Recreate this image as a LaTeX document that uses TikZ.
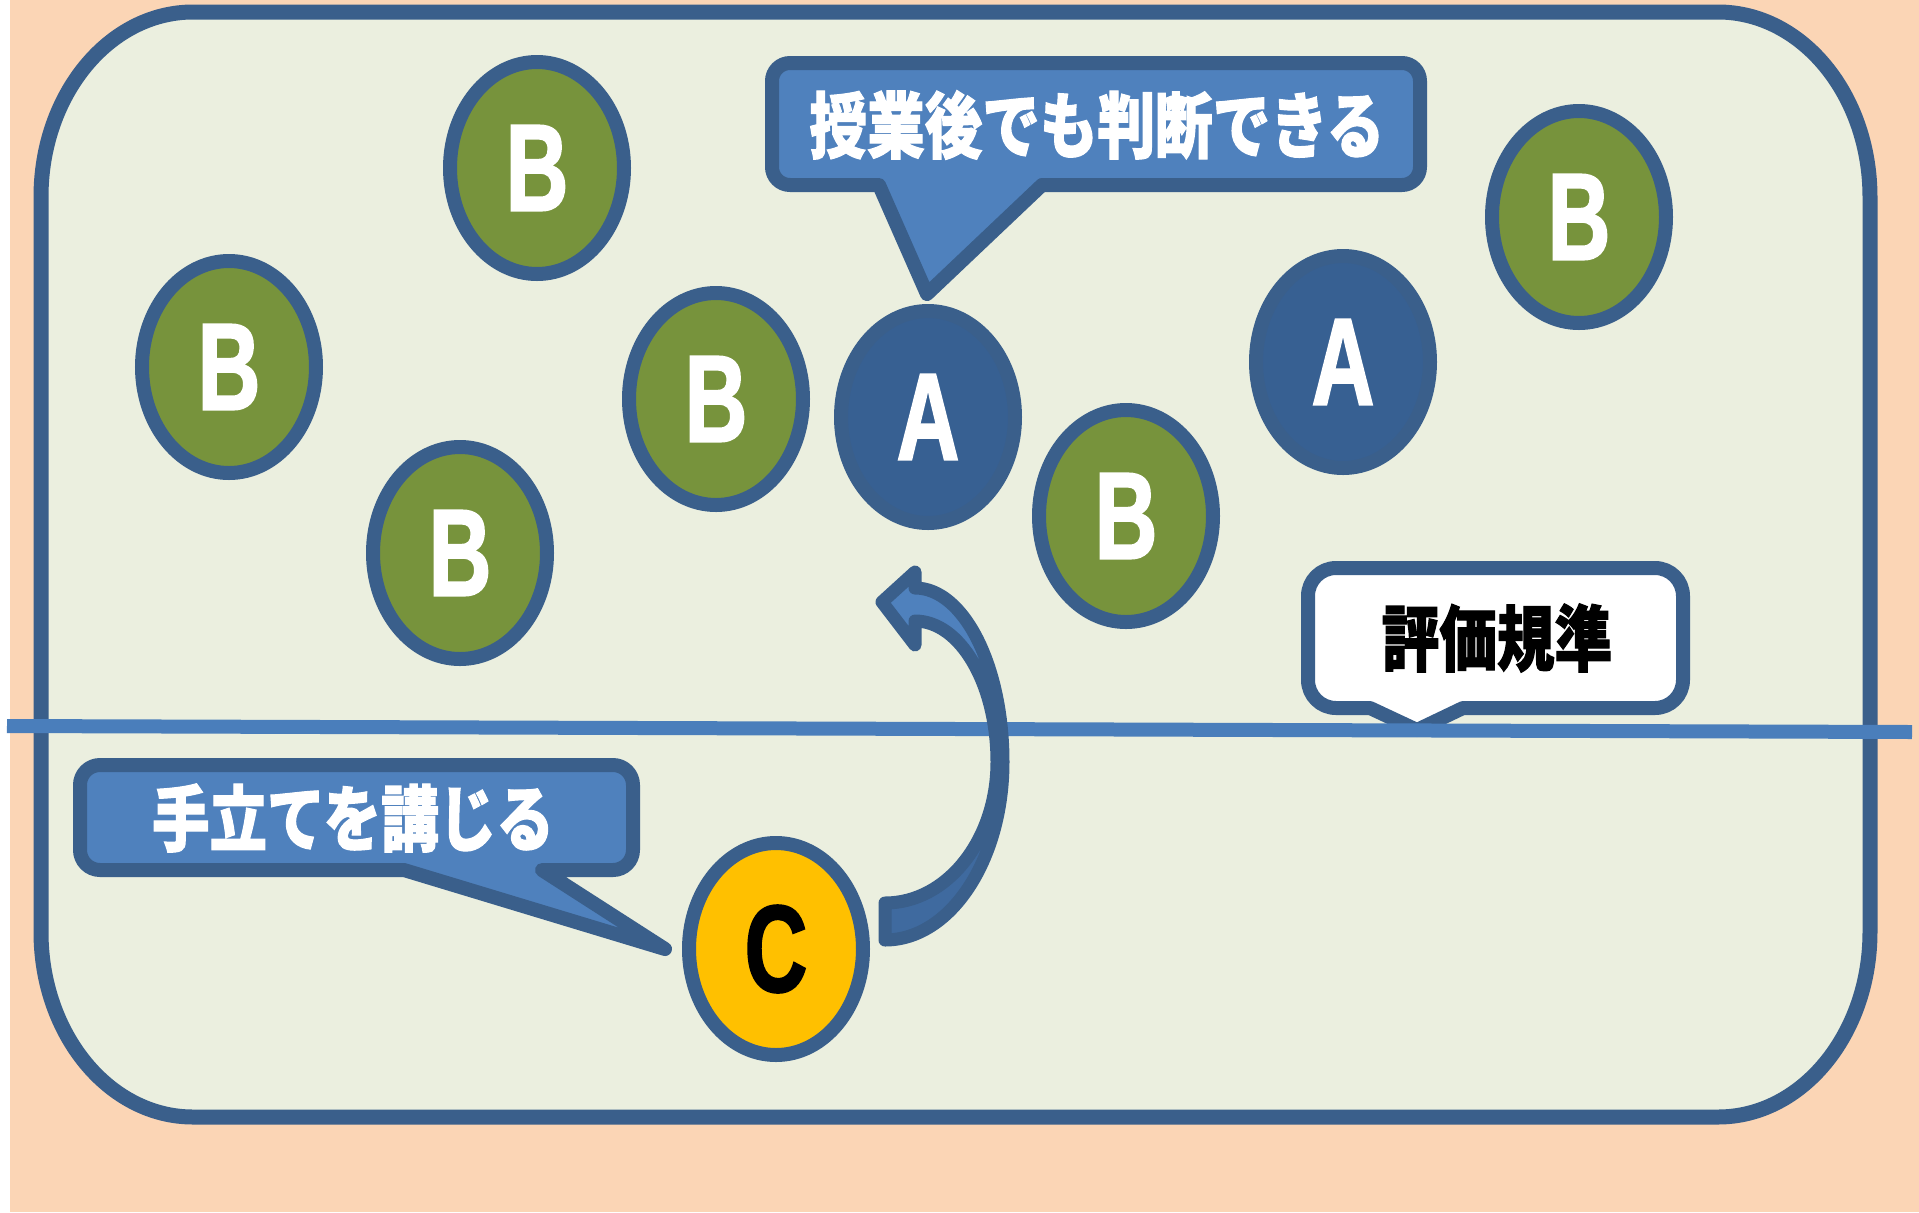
\documentclass[tikz,border=0pt]{standalone}
\usepackage{fontspec}
\usetikzlibrary{shapes.geometric}
\newfontfamily\cjkfont[FakeStretch=0.8, BoldFeatures={FakeBold=1.5}]{Noto Sans CJK JP}
\newfontfamily\latfont[FakeStretch=0.7, BoldFeatures={FakeBold=1.5}]{Liberation Sans}
\definecolor{peach}{HTML}{FBD5B5}
\definecolor{panel}{HTML}{EBEFDF}
\definecolor{bordc}{HTML}{3A5F8B}
\definecolor{greenB}{HTML}{77933C}
\definecolor{blueA}{HTML}{376092}
\definecolor{yellowC}{HTML}{FFC000}
\definecolor{calloutblue}{HTML}{4F81BD}
\definecolor{lineblue}{HTML}{4A7EBB}
\definecolor{arrowdark}{HTML}{3F6A9F}
\begin{document}
\begin{tikzpicture}[x=0.5pt,y=-0.5pt,
  oval/.style={ellipse, draw=bordc, line width=7pt, minimum width=87pt, minimum height=106pt, inner sep=0pt,
    font=\latfont\bfseries\fontsize{62}{62}\selectfont},
  ovalB/.style={oval, fill=greenB, text=white},
  ovalA/.style={oval, fill=blueA, text=white},
  ovalC/.style={oval, fill=yellowC, text=black},
  callout/.style={draw=bordc, line width=7pt, line join=round},
  lbl/.style={inner sep=0pt, font=\cjkfont\bfseries\fontsize{36}{36}\selectfont}]
\useasboundingbox (0,0) rectangle (1919,1212);
\fill[white] (0,0) rectangle (1919,1212);
\fill[peach] (10,0) rectangle (1919,1212);
% main panel
\draw[fill=panel, draw=bordc, line width=7.5pt]
  (193,12) -- (1718,12) arc[start angle=-90, end angle=0, x radius=152, y radius=185]
  -- (1870,932) arc[start angle=0, end angle=90, x radius=152, y radius=185]
  -- (193,1117) arc[start angle=90, end angle=180, x radius=152, y radius=185]
  -- (41,197) arc[start angle=180, end angle=270, x radius=152, y radius=185] -- cycle;
% ovals
\node[ovalB] (b1) at (537,168) {B};
\node[ovalB] (b2) at (229,367) {B};
\node[ovalB] (b3) at (460,553) {B};
\node[ovalB] (b4) at (716,399) {B};
\node[ovalA] (a1) at (928,417) {A};
\node[ovalB] (b5) at (1126,516) {B};
\node[ovalA] (a2) at (1343,362) {A};
\node[ovalB] (b6) at (1579,217) {B};
\node[ovalC] (c1) at (776,949) {C};
% callout 1
\draw[callout, fill=calloutblue]
  (879,185) -- (927,294) -- (1042,185) -- (1402,185) arc[start angle=90, end angle=0, radius=18]
  -- (1420,81) arc[start angle=0, end angle=-90, radius=18]
  -- (790,63) arc[start angle=-90, end angle=-180, radius=18]
  -- (772,167) arc[start angle=180, end angle=90, radius=18] -- cycle;
\node[lbl, text=white] (t1) at (1097,125) {授業後でも判断できる};
% callout 2
\draw[callout, fill=calloutblue]
  (404,870) -- (665,949) -- (542,870) -- (613,870) arc[start angle=90, end angle=0, radius=20]
  -- (633,785) arc[start angle=0, end angle=-90, radius=20]
  -- (100,765) arc[start angle=-90, end angle=-180, radius=20]
  -- (80,850) arc[start angle=180, end angle=90, radius=20] -- cycle;
\node[lbl, text=white] (t2) at (353,818) {手立てを講じる};
% callout 3
\draw[callout, fill=white]
  (1370,708) -- (1417,730) -- (1463,708) -- (1655,708) arc[start angle=90, end angle=0, radius=28]
  -- (1683,596) arc[start angle=0, end angle=-90, radius=28]
  -- (1336,568) arc[start angle=-90, end angle=-180, radius=28]
  -- (1308,680) arc[start angle=180, end angle=90, radius=28] -- cycle;
\node[lbl, text=black] (t3) at (1497,638) {評価規準};
% horizontal line
\coordinate (hl) at (7,726);
\coordinate (hr) at (1912,732);
\draw[lineblue, line width=7pt] (hl) -- (hr);
% curved arrow from C to A
\fill[calloutblue] (885,903) arc[start angle=90, end angle=0, x radius=112, y radius=141]
  arc[start angle=0, end angle=-90, x radius=82, y radius=141]
  -- (915,645) -- (882,602) -- (915,572) -- (915,588)
  arc[start angle=-90, end angle=0, x radius=88, y radius=174]
  arc[start angle=0, end angle=90, x radius=118, y radius=178] -- cycle;
\begin{scope}
\clip (850,762) rectangle (1050,970);
\fill[arrowdark] (885,903) arc[start angle=90, end angle=0, x radius=112, y radius=141]
  arc[start angle=0, end angle=-90, x radius=82, y radius=141]
  -- (915,645) -- (882,602) -- (915,572) -- (915,588)
  arc[start angle=-90, end angle=0, x radius=88, y radius=174]
  arc[start angle=0, end angle=90, x radius=118, y radius=178] -- cycle;
\end{scope}
\draw[bordc, line width=6.5pt, line join=round] (885,903) arc[start angle=90, end angle=0, x radius=112, y radius=141]
  arc[start angle=0, end angle=-90, x radius=82, y radius=141]
  -- (915,645) -- (882,602) -- (915,572) -- (915,588)
  arc[start angle=-90, end angle=0, x radius=88, y radius=174]
  arc[start angle=0, end angle=90, x radius=118, y radius=178] -- cycle;
\end{tikzpicture}
\end{document}
